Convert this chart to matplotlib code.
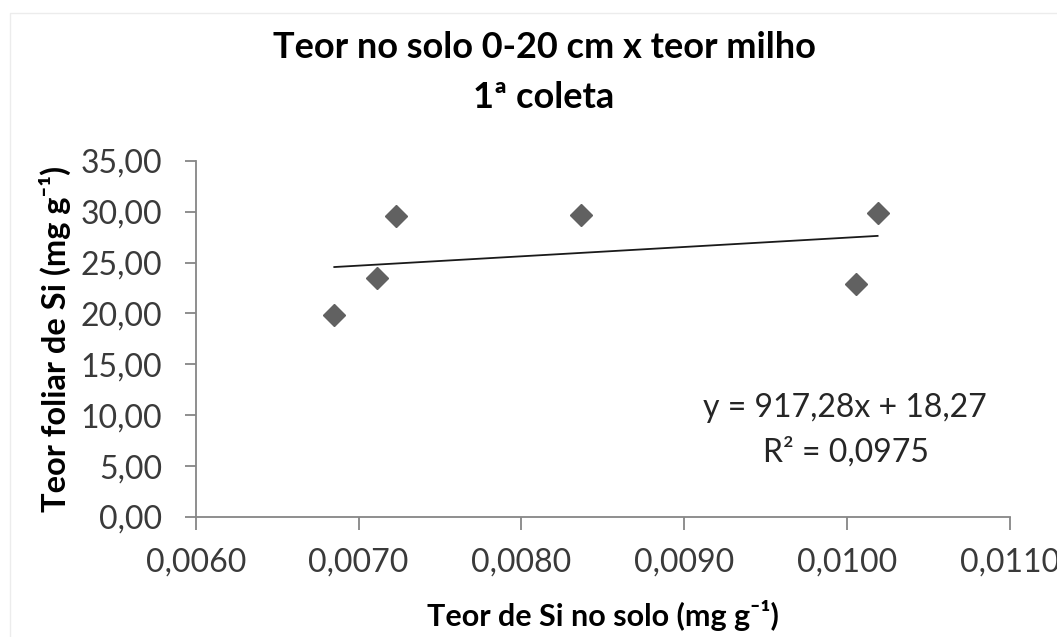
import matplotlib
matplotlib.use("Agg")
import matplotlib.pyplot as plt
from matplotlib.patches import Rectangle

# Data
x_solo = [0.006851, 0.007111, 0.007230, 0.008365, 0.010053, 0.010187]
y_foliar = [19.84, 23.45, 29.57, 29.67, 22.86, 29.83]
slope = 917.28
intercept = 18.27
r2_text = "0,0975"
x_ticks = [0.0060, 0.0070, 0.0080, 0.0090, 0.0100, 0.0110]
x_ticklabels = ["0,0060", "0,0070", "0,0080", "0,0090", "0,0100", "0,0110"]
y_ticks = [0, 5, 10, 15, 20, 25, 30, 35]
y_ticklabels = ["0,00", "5,00", "10,00", "15,00", "20,00", "25,00", "30,00", "35,00"]

plt.rcParams['font.family'] = ['Lato', 'DejaVu Sans']

fig = plt.figure(figsize=(10.57, 6.37), dpi=100)
fig.patch.set_facecolor('white')
fig.patches.append(Rectangle((10/1057, -0.1), 1.2, (637-13)/637 + 0.1, transform=fig.transFigure,
                             fill=False, edgecolor='#ececec', lw=1))

ax = fig.add_axes([195.7/1057, 1-517/637, (1010-195.7)/1057, (517-160.7)/637])

ax.plot(x_solo, y_foliar, linestyle='none', marker='D', markersize=11,
        color='#616161', markeredgecolor='#616161', zorder=3)

xl = [min(x_solo), max(x_solo)]
yl = [slope * v + intercept for v in xl]
ax.plot(xl, yl, color='#1a1a1a', lw=1.3, zorder=2)

ax.set_xlim(0.0060, 0.0110)
ax.set_ylim(0, 35)
ax.set_xticks(x_ticks)
ax.set_xticklabels(x_ticklabels)
ax.set_yticks(y_ticks)
ax.set_yticklabels(y_ticklabels)

for s in ['top', 'right']:
    ax.spines[s].set_visible(False)
for s in ['left', 'bottom']:
    ax.spines[s].set_color('#868686')
    ax.spines[s].set_linewidth(1.3)

ax.tick_params(axis='both', direction='out', color='#868686', width=1.3,
               labelsize=23, labelcolor='#3a3a3a')
ax.tick_params(axis='x', length=9, pad=13)
ax.tick_params(axis='y', length=8, pad=16)

ax.set_xlabel("Teor de Si no solo (mg g⁻¹)", fontsize=22, fontweight='bold', labelpad=16)
ax.set_ylabel("Teor foliar de Si (mg g⁻¹)", fontsize=23.5, fontweight='bold', labelpad=7)

fig.text(544/1057, 1-47/637, "Teor no solo 0-20 cm x teor milho", ha='center', va='center',
         fontsize=26, fontweight='bold')
fig.text(544/1057, 1-97/637, "1ª coleta", ha='center', va='center',
         fontsize=26, fontweight='bold')

fig.text(845/1057, 1-408/637, "y = 917,28x + 18,27",
         ha='center', va='center', fontsize=23, color='#262626')
fig.text(846/1057, 1-452/637, "R² = " + r2_text,
         ha='center', va='center', fontsize=23, color='#262626')

fig.savefig("out.png", dpi=100)
